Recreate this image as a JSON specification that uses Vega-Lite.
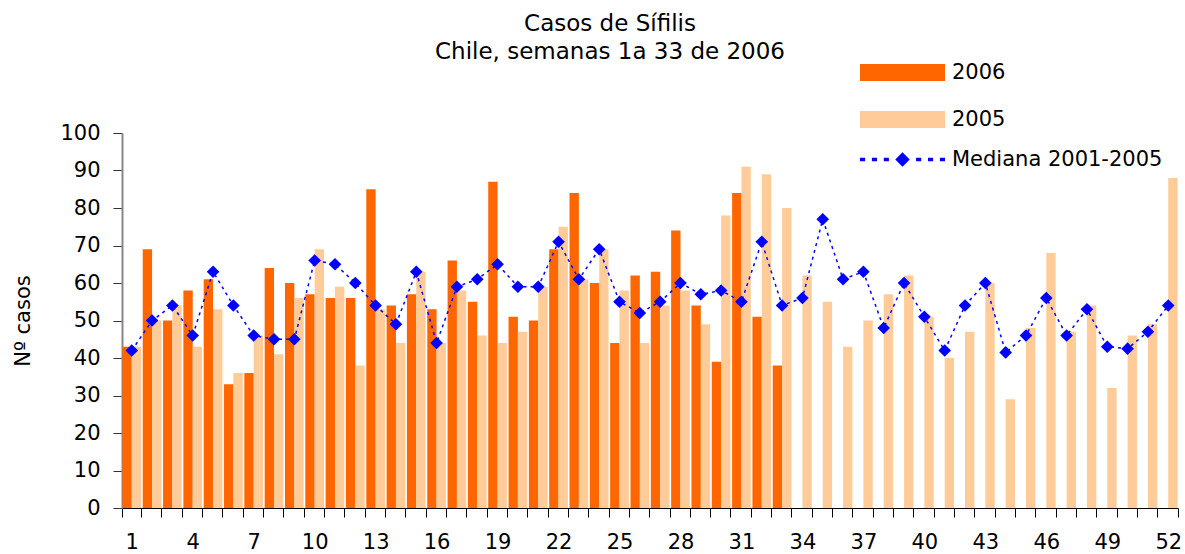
{
  "$schema": "https://vega.github.io/schema/vega-lite/v6.json",
  "width": 1056,
  "height": 375,
  "autosize": "none",
  "padding": {"left": 122, "top": 133, "right": 7, "bottom": 46},
  "background": "white",
  "title": {
    "text": ["Casos de Sífilis", "Chile, semanas 1a 33 de 2006"],
    "font": "DejaVu Sans",
    "fontSize": 23,
    "fontWeight": "normal",
    "color": "#000",
    "anchor": "middle",
    "dx": -40,
    "offset": -2,
    "lineHeight": 28
  },
  "data": {
    "values": [
      {"semana": 1, "serie": "2006", "casos": 43}, {"semana": 2, "serie": "2006", "casos": 69}, {"semana": 3, "serie": "2006", "casos": 50}, {"semana": 4, "serie": "2006", "casos": 58}, {"semana": 5, "serie": "2006", "casos": 61}, {"semana": 6, "serie": "2006", "casos": 33}, {"semana": 7, "serie": "2006", "casos": 36}, {"semana": 8, "serie": "2006", "casos": 64}, {"semana": 9, "serie": "2006", "casos": 60}, {"semana": 10, "serie": "2006", "casos": 57}, {"semana": 11, "serie": "2006", "casos": 56}, {"semana": 12, "serie": "2006", "casos": 56}, {"semana": 13, "serie": "2006", "casos": 85}, {"semana": 14, "serie": "2006", "casos": 54}, {"semana": 15, "serie": "2006", "casos": 57}, {"semana": 16, "serie": "2006", "casos": 53}, {"semana": 17, "serie": "2006", "casos": 66}, {"semana": 18, "serie": "2006", "casos": 55}, {"semana": 19, "serie": "2006", "casos": 87}, {"semana": 20, "serie": "2006", "casos": 51}, {"semana": 21, "serie": "2006", "casos": 50}, {"semana": 22, "serie": "2006", "casos": 69}, {"semana": 23, "serie": "2006", "casos": 84}, {"semana": 24, "serie": "2006", "casos": 60}, {"semana": 25, "serie": "2006", "casos": 44}, {"semana": 26, "serie": "2006", "casos": 62}, {"semana": 27, "serie": "2006", "casos": 63}, {"semana": 28, "serie": "2006", "casos": 74}, {"semana": 29, "serie": "2006", "casos": 54}, {"semana": 30, "serie": "2006", "casos": 39}, {"semana": 31, "serie": "2006", "casos": 84}, {"semana": 32, "serie": "2006", "casos": 51}, {"semana": 33, "serie": "2006", "casos": 38},
      {"semana": 1, "serie": "2005", "casos": 43}, {"semana": 2, "serie": "2005", "casos": 50}, {"semana": 3, "serie": "2005", "casos": 54}, {"semana": 4, "serie": "2005", "casos": 43}, {"semana": 5, "serie": "2005", "casos": 53}, {"semana": 6, "serie": "2005", "casos": 36}, {"semana": 7, "serie": "2005", "casos": 46}, {"semana": 8, "serie": "2005", "casos": 41}, {"semana": 9, "serie": "2005", "casos": 56}, {"semana": 10, "serie": "2005", "casos": 69}, {"semana": 11, "serie": "2005", "casos": 59}, {"semana": 12, "serie": "2005", "casos": 38}, {"semana": 13, "serie": "2005", "casos": 53}, {"semana": 14, "serie": "2005", "casos": 44}, {"semana": 15, "serie": "2005", "casos": 63}, {"semana": 16, "serie": "2005", "casos": 44}, {"semana": 17, "serie": "2005", "casos": 58}, {"semana": 18, "serie": "2005", "casos": 46}, {"semana": 19, "serie": "2005", "casos": 44}, {"semana": 20, "serie": "2005", "casos": 47}, {"semana": 21, "serie": "2005", "casos": 59}, {"semana": 22, "serie": "2005", "casos": 75}, {"semana": 23, "serie": "2005", "casos": 61}, {"semana": 24, "serie": "2005", "casos": 69}, {"semana": 25, "serie": "2005", "casos": 58}, {"semana": 26, "serie": "2005", "casos": 44}, {"semana": 27, "serie": "2005", "casos": 54}, {"semana": 28, "serie": "2005", "casos": 58}, {"semana": 29, "serie": "2005", "casos": 49}, {"semana": 30, "serie": "2005", "casos": 78}, {"semana": 31, "serie": "2005", "casos": 91}, {"semana": 32, "serie": "2005", "casos": 89}, {"semana": 33, "serie": "2005", "casos": 80}, {"semana": 34, "serie": "2005", "casos": 62}, {"semana": 35, "serie": "2005", "casos": 55}, {"semana": 36, "serie": "2005", "casos": 43}, {"semana": 37, "serie": "2005", "casos": 50}, {"semana": 38, "serie": "2005", "casos": 57}, {"semana": 39, "serie": "2005", "casos": 62}, {"semana": 40, "serie": "2005", "casos": 51}, {"semana": 41, "serie": "2005", "casos": 40}, {"semana": 42, "serie": "2005", "casos": 47}, {"semana": 43, "serie": "2005", "casos": 60}, {"semana": 44, "serie": "2005", "casos": 29}, {"semana": 45, "serie": "2005", "casos": 48}, {"semana": 46, "serie": "2005", "casos": 68}, {"semana": 47, "serie": "2005", "casos": 47}, {"semana": 48, "serie": "2005", "casos": 54}, {"semana": 49, "serie": "2005", "casos": 32}, {"semana": 50, "serie": "2005", "casos": 46}, {"semana": 51, "serie": "2005", "casos": 49}, {"semana": 52, "serie": "2005", "casos": 88},
      {"semana": 1, "serie": "Mediana 2001-2005", "casos": 42}, {"semana": 2, "serie": "Mediana 2001-2005", "casos": 50}, {"semana": 3, "serie": "Mediana 2001-2005", "casos": 54}, {"semana": 4, "serie": "Mediana 2001-2005", "casos": 46}, {"semana": 5, "serie": "Mediana 2001-2005", "casos": 63}, {"semana": 6, "serie": "Mediana 2001-2005", "casos": 54}, {"semana": 7, "serie": "Mediana 2001-2005", "casos": 46}, {"semana": 8, "serie": "Mediana 2001-2005", "casos": 45}, {"semana": 9, "serie": "Mediana 2001-2005", "casos": 45}, {"semana": 10, "serie": "Mediana 2001-2005", "casos": 66}, {"semana": 11, "serie": "Mediana 2001-2005", "casos": 65}, {"semana": 12, "serie": "Mediana 2001-2005", "casos": 60}, {"semana": 13, "serie": "Mediana 2001-2005", "casos": 54}, {"semana": 14, "serie": "Mediana 2001-2005", "casos": 49}, {"semana": 15, "serie": "Mediana 2001-2005", "casos": 63}, {"semana": 16, "serie": "Mediana 2001-2005", "casos": 44}, {"semana": 17, "serie": "Mediana 2001-2005", "casos": 59}, {"semana": 18, "serie": "Mediana 2001-2005", "casos": 61}, {"semana": 19, "serie": "Mediana 2001-2005", "casos": 65}, {"semana": 20, "serie": "Mediana 2001-2005", "casos": 59}, {"semana": 21, "serie": "Mediana 2001-2005", "casos": 59}, {"semana": 22, "serie": "Mediana 2001-2005", "casos": 71}, {"semana": 23, "serie": "Mediana 2001-2005", "casos": 61}, {"semana": 24, "serie": "Mediana 2001-2005", "casos": 69}, {"semana": 25, "serie": "Mediana 2001-2005", "casos": 55}, {"semana": 26, "serie": "Mediana 2001-2005", "casos": 52}, {"semana": 27, "serie": "Mediana 2001-2005", "casos": 55}, {"semana": 28, "serie": "Mediana 2001-2005", "casos": 60}, {"semana": 29, "serie": "Mediana 2001-2005", "casos": 57}, {"semana": 30, "serie": "Mediana 2001-2005", "casos": 58}, {"semana": 31, "serie": "Mediana 2001-2005", "casos": 55}, {"semana": 32, "serie": "Mediana 2001-2005", "casos": 71}, {"semana": 33, "serie": "Mediana 2001-2005", "casos": 54}, {"semana": 34, "serie": "Mediana 2001-2005", "casos": 56}, {"semana": 35, "serie": "Mediana 2001-2005", "casos": 77}, {"semana": 36, "serie": "Mediana 2001-2005", "casos": 61}, {"semana": 37, "serie": "Mediana 2001-2005", "casos": 63}, {"semana": 38, "serie": "Mediana 2001-2005", "casos": 48}, {"semana": 39, "serie": "Mediana 2001-2005", "casos": 60}, {"semana": 40, "serie": "Mediana 2001-2005", "casos": 51}, {"semana": 41, "serie": "Mediana 2001-2005", "casos": 42}, {"semana": 42, "serie": "Mediana 2001-2005", "casos": 54}, {"semana": 43, "serie": "Mediana 2001-2005", "casos": 60}, {"semana": 44, "serie": "Mediana 2001-2005", "casos": 41.5}, {"semana": 45, "serie": "Mediana 2001-2005", "casos": 46}, {"semana": 46, "serie": "Mediana 2001-2005", "casos": 56}, {"semana": 47, "serie": "Mediana 2001-2005", "casos": 46}, {"semana": 48, "serie": "Mediana 2001-2005", "casos": 53}, {"semana": 49, "serie": "Mediana 2001-2005", "casos": 43}, {"semana": 50, "serie": "Mediana 2001-2005", "casos": 42.5}, {"semana": 51, "serie": "Mediana 2001-2005", "casos": 47}, {"semana": 52, "serie": "Mediana 2001-2005", "casos": 54}
    ]
  },
  "encoding": {
    "x": {
      "field": "semana",
      "type": "ordinal",
      "scale": {"paddingInner": 0.08, "paddingOuter": 0.02},
      "axis": {
        "title": null,
        "labelAngle": 0,
        "labelExpr": "datum.value % 3 == 1 ? datum.label : ''",
        "labelOverlap": false,
        "tickBand": "extent",
        "tickSize": 9,
        "tickColor": "#000",
        "domainColor": "#000",
        "labelFont": "DejaVu Sans",
        "labelFontSize": 21,
        "labelColor": "#000",
        "labelPadding": 14,
        "grid": false
      }
    },
    "y": {
      "field": "casos",
      "type": "quantitative",
      "scale": {"domain": [0, 100]},
      "axis": {
        "title": "Nº casos",
        "values": [0, 10, 20, 30, 40, 50, 60, 70, 80, 90, 100],
        "grid": false,
        "tickSize": 9,
        "tickColor": "#333",
        "domainColor": "#888",
        "domainWidth": 2,
        "labelFont": "DejaVu Sans",
        "labelFontSize": 21,
        "labelColor": "#000",
        "labelPadding": 13,
        "titleFont": "DejaVu Sans",
        "titleFontSize": 21,
        "titleFontWeight": "normal",
        "titleColor": "#000",
        "titleAngle": -90,
        "titleAlign": "center",
        "titleBaseline": "middle",
        "titleX": -99,
        "titleY": 187.5
      }
    }
  },
  "layer": [
    {
      "transform": [{"filter": "datum.serie != 'Mediana 2001-2005'"}],
      "mark": {"type": "bar"},
      "encoding": {
        "xOffset": {"field": "serie", "type": "nominal", "scale": {"domain": ["2006", "2005"], "paddingInner": 0}},
        "color": {
          "field": "serie",
          "type": "nominal",
          "scale": {"domain": ["2006", "2005"], "range": ["#ff6600", "#ffcc99"]},
          "legend": {
            "orient": "none",
            "legendX": 736,
            "legendY": -71,
            "title": null,
            "symbolSize": 289,
            "symbolType": "M-1,-1H9V1H-1Z",
            "symbolStrokeWidth": 0,
            "symbolOpacity": 1,
            "labelFont": "DejaVu Sans",
            "labelFontSize": 21,
            "labelColor": "#000",
            "labelOffset": 73,
            "rowPadding": 25
          }
        }
      }
    },
    {
      "transform": [{"filter": "datum.serie == 'Mediana 2001-2005'"}],
      "mark": {
        "type": "line",
        "color": "#0000ff",
        "strokeWidth": 1.5,
        "point": {"shape": "diamond", "size": 160, "filled": true, "color": "#0000ff"}
      },
      "encoding": {
        "strokeDash": {
          "field": "serie",
          "type": "nominal",
          "scale": {"domain": ["Mediana 2001-2005"], "range": [[3, 4]]},
          "legend": {
            "orient": "none",
            "legendX": 736,
            "legendY": 16,
            "title": null,
            "symbolSize": 289,
            "symbolType": "M-1,-0.2H-0.4V0.2H-1ZM0.4,-0.2H1V0.2H0.4ZM1.8,-0.2H2.4V0.2H1.8ZM4,-0.85L4.85,0L4,0.85L3.15,0ZM5.6,-0.2H6.2V0.2H5.6ZM7,-0.2H7.6V0.2H7ZM8.4,-0.2H9V0.2H8.4Z",
            "symbolFillColor": "#0000ff",
            "symbolStrokeColor": "#0000ff",
            "symbolStrokeWidth": 0,
            "symbolOpacity": 1,
            "labelFont": "DejaVu Sans",
            "labelFontSize": 21,
            "labelColor": "#000",
            "labelOffset": 73,
            "labelLimit": 400
          }
        }
      }
    }
  ],
  "config": {"view": {"stroke": null}}
}
